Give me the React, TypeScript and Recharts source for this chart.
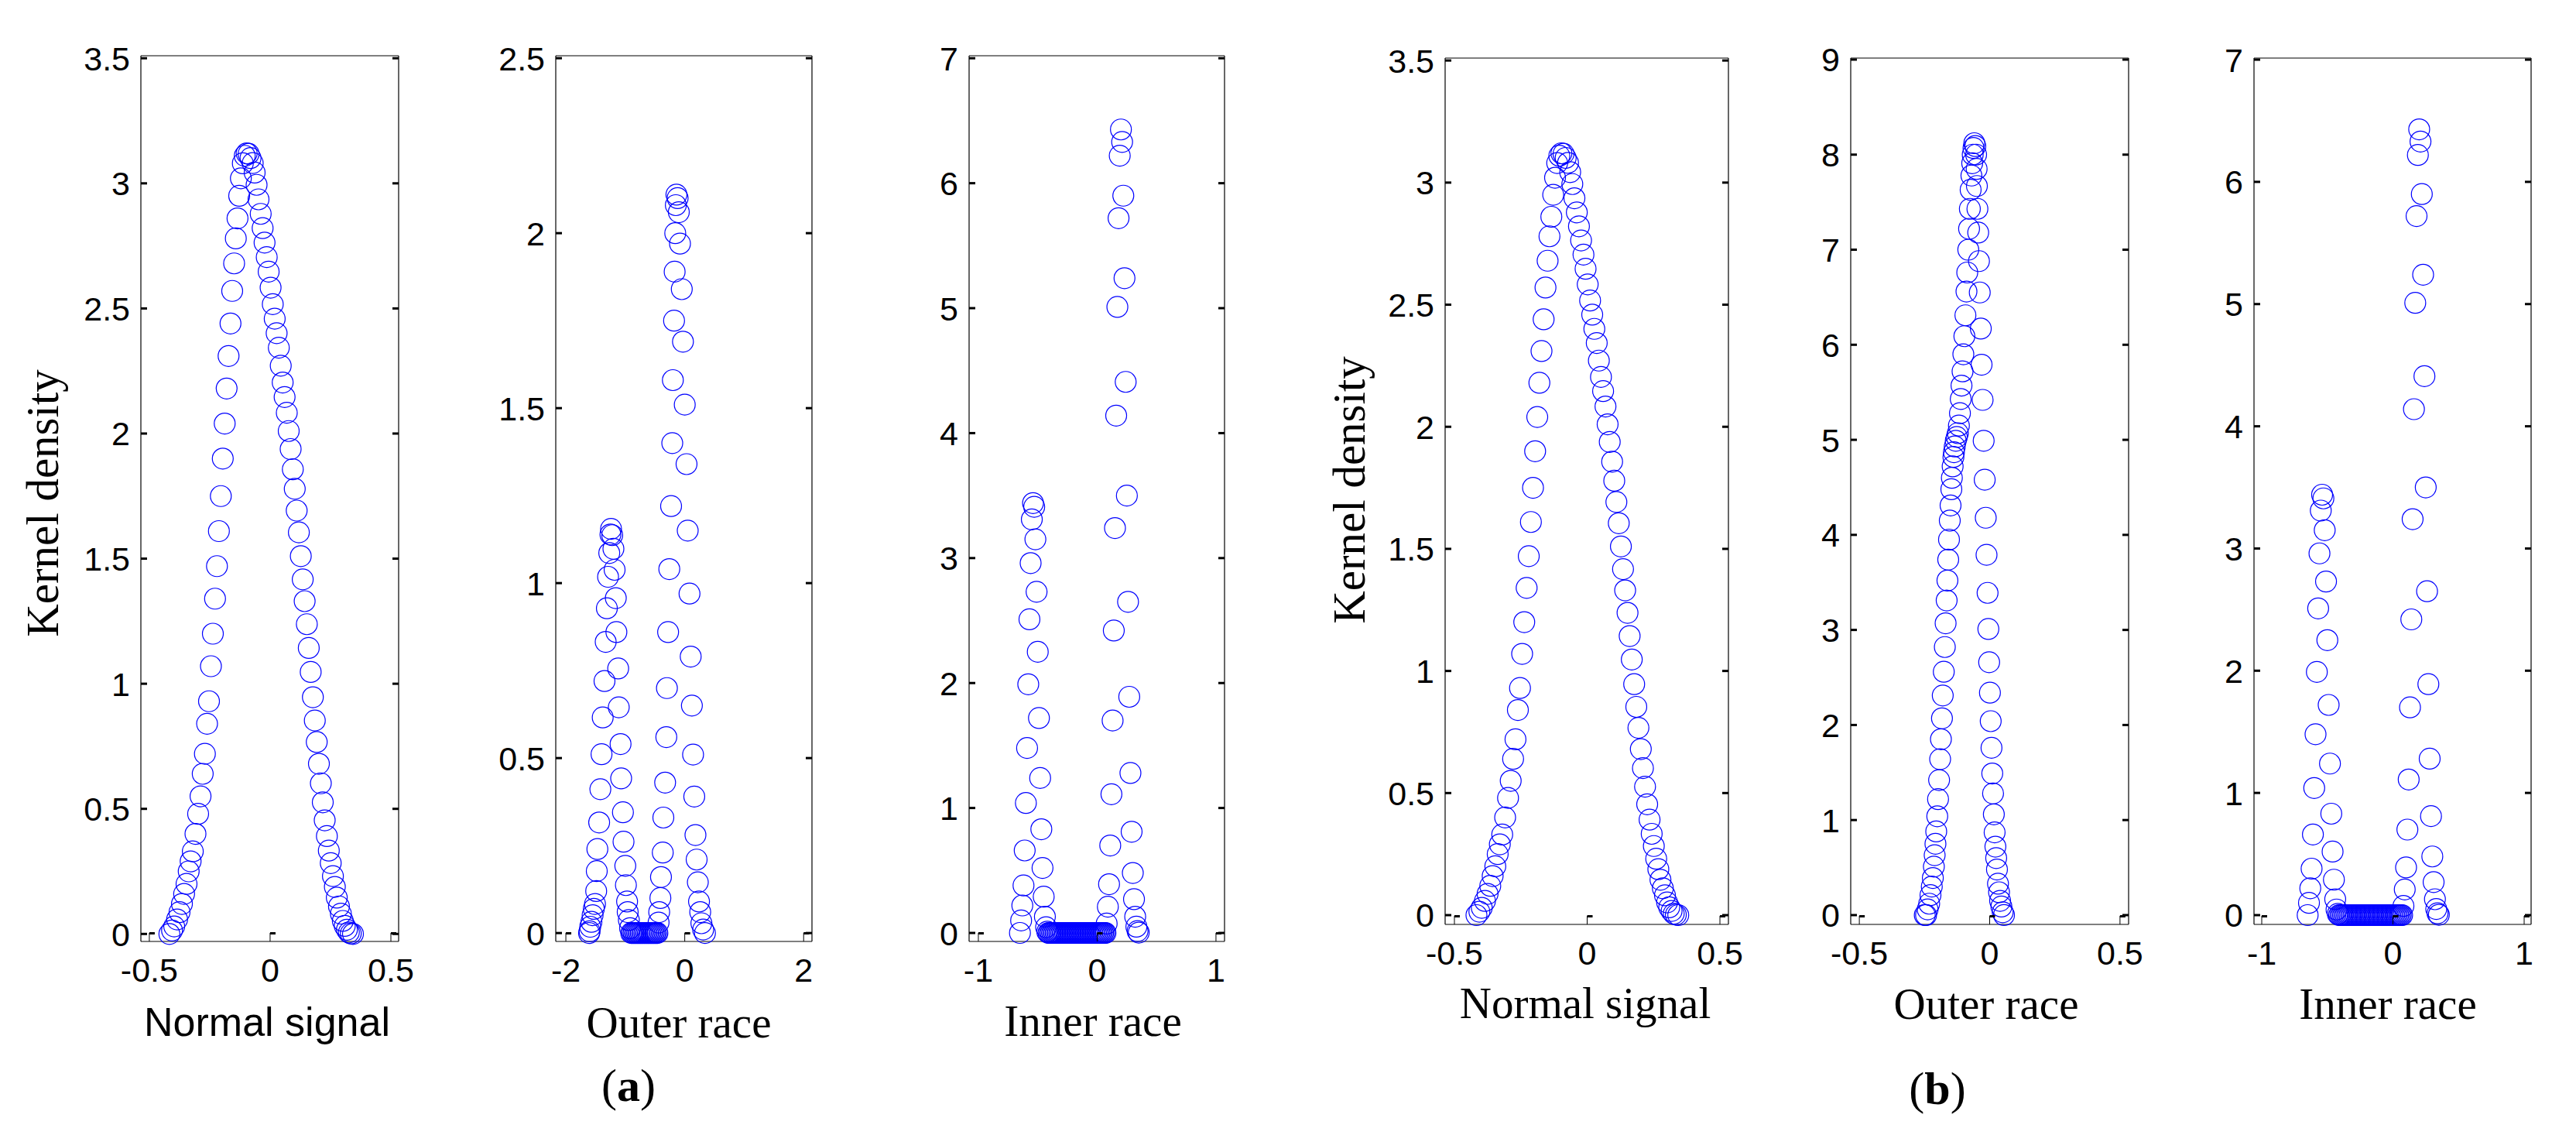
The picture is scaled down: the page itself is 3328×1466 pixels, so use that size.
import React from "react";
import { ScatterChart, Scatter, XAxis, YAxis } from "recharts";

// Kernel density estimates: x = signal value, y = density.
// The normal-signal and inner-race estimates are the same in (a) and (b).
const normalX = [
  -0.417, -0.406, -0.397, -0.385, -0.375, -0.365, -0.356, -0.346, -0.337, -0.329,
  -0.32, -0.309, -0.298, -0.288, -0.279, -0.27, -0.261, -0.253, -0.245, -0.237,
  -0.228, -0.22, -0.212, -0.204, -0.196, -0.188, -0.18, -0.172, -0.164, -0.157,
  -0.149, -0.142, -0.135, -0.128, -0.121, -0.113, -0.105, -0.097,
  -0.089, -0.081, -0.072, -0.064, -0.056, -0.048, -0.039, -0.031, -0.023, -0.014,
  -0.006, 0.002, 0.011, 0.019, 0.027, 0.036, 0.044, 0.052, 0.06, 0.069,
  0.077, 0.085, 0.094, 0.102, 0.11, 0.119, 0.127, 0.135, 0.143, 0.152,
  0.16, 0.168, 0.177, 0.185, 0.193, 0.202, 0.21, 0.218, 0.226, 0.235,
  0.243, 0.251, 0.26, 0.268, 0.276, 0.285, 0.293, 0.301, 0.309, 0.318,
  0.326, 0.334, 0.343,
];
const normalY = [
  0, 0.014, 0.03, 0.058, 0.087, 0.12, 0.16, 0.2, 0.25, 0.29,
  0.33, 0.4, 0.48, 0.55, 0.64, 0.72, 0.84, 0.93, 1.07, 1.2,
  1.34, 1.47, 1.61, 1.75, 1.9, 2.04, 2.18, 2.31, 2.44, 2.57,
  2.68, 2.78, 2.86, 2.95, 3.02, 3.08, 3.11, 3.12,
  3.118, 3.101, 3.081, 3.043, 2.994, 2.936, 2.878, 2.821, 2.763, 2.705,
  2.647, 2.583, 2.517, 2.459, 2.401, 2.343, 2.271, 2.204, 2.146, 2.083,
  2.01, 1.938, 1.857, 1.779, 1.692, 1.605, 1.51, 1.417, 1.33, 1.238,
  1.143, 1.047, 0.946, 0.853, 0.767, 0.68, 0.602, 0.526, 0.454, 0.391,
  0.333, 0.283, 0.231, 0.188, 0.145, 0.11, 0.081, 0.052, 0.032, 0.017,
  0.006, 0.002, 0,
];

const outerAX = [
  -1.61, -1.6, -1.59, -1.57, -1.55, -1.53, -1.51, -1.49, -1.48, -1.47,
  -1.44, -1.42, -1.4, -1.38, -1.35, -1.33, -1.31, -1.29, -1.27, -1.25, -1.24,
  -1.22, -1.2, -1.18, -1.16, -1.15, -1.12, -1.11, -1.08, -1.07, -1.04,
  -1.03, -1, -0.99, -0.97, -0.96, -0.94, -0.92, -0.9,
  -0.88, -0.86, -0.84, -0.82, -0.8, -0.78, -0.76, -0.74, -0.72, -0.7,
  -0.68, -0.66, -0.64, -0.62, -0.6, -0.58, -0.56, -0.54, -0.52, -0.5, -0.48,
  -0.46, -0.44, -0.43, -0.41, -0.4, -0.37, -0.36, -0.33, -0.31, -0.3,
  -0.28, -0.26, -0.23, -0.21, -0.2, -0.18, -0.17, -0.16, -0.15, -0.14,
  -0.12, -0.1, -0.08, -0.05, -0.03, 0, 0.03, 0.05, 0.08, 0.1,
  0.12, 0.14, 0.16, 0.18, 0.2, 0.22, 0.24, 0.26, 0.28, 0.31, 0.34,
];
const outerAY = [
  0, 0.005, 0.018, 0.032, 0.051, 0.069, 0.083, 0.12, 0.177, 0.24,
  0.316, 0.411, 0.511, 0.616, 0.72, 0.832, 0.928, 1.018, 1.086, 1.139, 1.155,
  1.137, 1.098, 1.038, 0.957, 0.86, 0.756, 0.645, 0.54, 0.442, 0.345,
  0.261, 0.192, 0.137, 0.09, 0.06, 0.037, 0.014, 0,
  0, 0, 0, 0, 0, 0, 0, 0, 0, 0,
  0, 0, 0, 0, 0, 0, 0, 0, 0, 0, 0,
  0, 0.03, 0.06, 0.1, 0.16, 0.23, 0.33, 0.43, 0.56, 0.7,
  0.86, 1.04, 1.22, 1.4, 1.58, 1.75, 1.89, 2, 2.08, 2.11,
  2.1, 2.06, 1.97, 1.84, 1.69, 1.51, 1.34, 1.15, 0.97, 0.79,
  0.65, 0.51, 0.39, 0.28, 0.21, 0.145, 0.09, 0.06, 0.028, 0.01, 0,
];

const outerBX = [
  -0.249, -0.244, -0.238, -0.232, -0.227, -0.222, -0.218, -0.214, -0.211, -0.208,
  -0.205, -0.201, -0.198, -0.194, -0.19, -0.187, -0.183, -0.18, -0.176, -0.172,
  -0.169, -0.165, -0.162, -0.159, -0.156, -0.153, -0.15, -0.147, -0.145, -0.142,
  -0.139, -0.137, -0.134, -0.13, -0.126, -0.122, -0.118, -0.114, -0.111, -0.108,
  -0.104, -0.101, -0.097, -0.093, -0.089, -0.086, -0.082, -0.079, -0.076, -0.073,
  -0.07, -0.067, -0.065, -0.062, -0.059,
  -0.055, -0.052, -0.05, -0.049, -0.047, -0.044, -0.041, -0.038, -0.034, -0.031,
  -0.027, -0.023, -0.019, -0.015, -0.012, -0.008, -0.005, -0.002, 0.001, 0.004,
  0.007, 0.01, 0.013, 0.016, 0.019, 0.022, 0.025, 0.028, 0.032, 0.036,
  0.04, 0.045, 0.05, 0.055,
];
const outerBY = [
  0, 0, 0.06, 0.12, 0.21, 0.3, 0.39, 0.51, 0.63, 0.75,
  0.88, 1.04, 1.22, 1.42, 1.64, 1.85, 2.07, 2.31, 2.56, 2.82,
  3.07, 3.31, 3.52, 3.74, 3.95, 4.15, 4.31, 4.48, 4.6, 4.72,
  4.82, 4.87, 4.93, 4.99, 5.03, 5.07, 5.15, 5.28, 5.43, 5.57,
  5.72, 5.9, 6.09, 6.31, 6.56, 6.76, 7, 7.22, 7.43, 7.63,
  7.78, 7.91, 8, 8.07, 8.12,
  8.09, 8, 7.85, 7.67, 7.43, 7.18, 6.88, 6.55, 6.17, 5.79,
  5.42, 4.99, 4.58, 4.18, 3.79, 3.39, 3.01, 2.66, 2.34, 2.04,
  1.76, 1.49, 1.28, 1.06, 0.87, 0.72, 0.6, 0.48, 0.33, 0.24,
  0.15, 0.09, 0.03, 0,
];

const innerX = [
  -0.65, -0.64, -0.63, -0.62, -0.61, -0.6, -0.59, -0.58, -0.57, -0.56,
  -0.55, -0.54, -0.53, -0.52, -0.51, -0.5, -0.49, -0.48, -0.47, -0.46,
  -0.45, -0.44, -0.43, -0.42, -0.41, -0.4, -0.39, -0.38, -0.37, -0.36,
  -0.35, -0.34, -0.33, -0.32, -0.31, -0.3, -0.29, -0.28, -0.27, -0.26,
  -0.25, -0.24, -0.23, -0.22, -0.21, -0.2, -0.19, -0.18, -0.17, -0.16,
  -0.15, -0.14, -0.13, -0.12, -0.11, -0.1, -0.09, -0.08, -0.07, -0.06,
  -0.05, -0.04, -0.03, -0.02, -0.01, 0, 0.01, 0.02, 0.03, 0.04,
  0.05, 0.06, 0.07, 0.08, 0.09, 0.1, 0.11, 0.12, 0.13, 0.14,
  0.15, 0.16, 0.17, 0.18, 0.19, 0.2, 0.21, 0.22, 0.23, 0.24,
  0.25, 0.26, 0.27, 0.28, 0.29, 0.3, 0.31, 0.32, 0.33, 0.34,
  0.35,
];
const innerY = [
  0, 0.1, 0.22, 0.38, 0.66, 1.04, 1.48, 1.99, 2.51, 2.96,
  3.31, 3.44, 3.41, 3.15, 2.73, 2.25, 1.72, 1.24, 0.83, 0.52,
  0.29, 0.13, 0.046, 0.01, 0, 0, 0, 0, 0, 0,
  0, 0, 0, 0, 0, 0, 0, 0, 0, 0,
  0, 0, 0, 0, 0, 0, 0, 0, 0, 0,
  0, 0, 0, 0, 0, 0, 0, 0, 0, 0,
  0, 0, 0, 0, 0, 0, 0, 0, 0, 0,
  0, 0, 0, 0.075, 0.21, 0.39, 0.7, 1.11, 1.7, 2.42,
  3.24, 4.14, 5.01, 5.72, 6.22, 6.43, 6.33, 5.9, 5.24, 4.41,
  3.5, 2.65, 1.89, 1.28, 0.81, 0.48, 0.27, 0.13, 0.05, 0.015,
  0.003,
];

const halfTicks = [-0.5, 0, 0.5];
const twoTicks = [-2, 0, 2];
const oneTicks = [-1, 0, 1];
const density35 = [0, 0.5, 1, 1.5, 2, 2.5, 3, 3.5];
const density25 = [0, 0.5, 1, 1.5, 2, 2.5];
const density7 = [0, 1, 2, 3, 4, 5, 6, 7];
const density9 = [0, 1, 2, 3, 4, 5, 6, 7, 8, 9];

const zip = (xs: number[], ys: number[]) => xs.map((x, i) => ({ x, y: ys[i] }));

const SANS = "'Liberation Sans', Arial, Helvetica, sans-serif";
const SERIF = "'Liberation Serif', 'Times New Roman', Times, serif";
const BLUE = "#0000ff";

// space around each plot box for the axes
const LEFT_W = 130;
const TOP_H = 30;
const RIGHT_W = 40;
const BOTTOM_H = 80;

function LeftTick({ x, y, payload }: any) {
  return (
    <g>
      <rect x={x} y={y - 1.5} width={8} height={3} fill="#000" />
      <text x={x - 14} y={y} dy="0.36em" textAnchor="end" fontFamily={SANS} fontSize={43} fill="#000">
        {String(payload.value)}
      </text>
    </g>
  );
}

function RightTick({ x, y }: any) {
  return <rect x={x - 8} y={y - 1.5} width={8} height={3} fill="#000" />;
}

function BottomTick({ x, y, payload }: any) {
  return (
    <g>
      <line x1={x} x2={x} y1={y} y2={y - 11} stroke="#000" strokeWidth={1} />
      <rect x={x} y={y - 12} width={7} height={3} fill="#000" />
      <text x={x} y={y + 52} textAnchor="middle" fontFamily={SANS} fontSize={43} fill="#000">
        {String(payload.value)}
      </text>
    </g>
  );
}

function TopTick({ x, y }: any) {
  return (
    <g>
      <line x1={x} x2={x} y1={y} y2={y + 12} stroke="#000" strokeWidth={1} />
      <rect x={x} y={y + 9} width={7} height={3} fill="#000" />
    </g>
  );
}

function Ring({ cx, cy }: any) {
  return <circle cx={cx} cy={cy} r={13.5} fill="none" stroke={BLUE} strokeWidth={1.2} />;
}

interface PanelProps {
  data: { x: number; y: number }[];
  left: number;
  top: number;
  width: number;
  height: number;
  xDomain: [number, number];
  yDomain: [number, number];
  xTicks: number[];
  yTicks: number[];
}

function Panel({ data, left, top, width, height, xDomain, yDomain, xTicks, yTicks }: PanelProps) {
  const axisLine = { stroke: "#000", strokeWidth: 1.2 };
  return (
    <div style={{ position: "absolute", left: left - LEFT_W, top: top - TOP_H }}>
      <ScatterChart
        width={LEFT_W + width + RIGHT_W}
        height={TOP_H + height + BOTTOM_H}
        margin={{ top: 0, right: 0, bottom: 0, left: 0 }}
      >
        <XAxis
          type="number"
          dataKey="x"
          domain={xDomain}
          ticks={xTicks}
          interval={0}
          height={BOTTOM_H}
          tickSize={0}
          tickMargin={0}
          tickLine={false}
          axisLine={axisLine}
          tick={(t: any) => <BottomTick {...t} />}
        />
        <XAxis
          xAxisId="top"
          orientation="top"
          type="number"
          domain={xDomain}
          ticks={xTicks}
          interval={0}
          allowDataOverflow
          height={TOP_H}
          tickSize={0}
          tickMargin={0}
          tickLine={false}
          axisLine={axisLine}
          tick={(t: any) => <TopTick {...t} />}
        />
        <YAxis
          type="number"
          dataKey="y"
          domain={yDomain}
          ticks={yTicks}
          interval={0}
          width={LEFT_W}
          tickSize={0}
          tickMargin={0}
          tickLine={false}
          axisLine={axisLine}
          tick={(t: any) => <LeftTick {...t} />}
        />
        <YAxis
          yAxisId="right"
          orientation="right"
          type="number"
          domain={yDomain}
          ticks={yTicks}
          interval={0}
          allowDataOverflow
          width={RIGHT_W}
          tickSize={0}
          tickMargin={0}
          tickLine={false}
          axisLine={axisLine}
          tick={(t: any) => <RightTick {...t} />}
        />
        <Scatter data={data} shape={(s: any) => <Ring {...s} />} isAnimationActive={false} />
      </ScatterChart>
    </div>
  );
}

export default function App() {
  const normal = zip(normalX, normalY);
  const outerA = zip(outerAX, outerAY);
  const outerB = zip(outerBX, outerBY);
  const inner = zip(innerX, innerY);

  return (
    <div style={{ position: "relative", width: 3328, height: 1466, background: "#fff", overflow: "hidden" }}>
      <style>{"body{margin:0}"}</style>

      {/* (a) */}
      <Panel data={normal} left={182} top={72} width={333} height={1144}
        xDomain={[-0.535, 0.532]} yDomain={[-0.03, 3.51]} xTicks={halfTicks} yTicks={density35} />
      <Panel data={outerA} left={718} top={72} width={331} height={1144}
        xDomain={[-2.17, 2.14]} yDomain={[-0.024, 2.507]} xTicks={twoTicks} yTicks={density25} />
      <Panel data={inner} left={1252} top={72} width={330} height={1144}
        xDomain={[-1.078, 1.072]} yDomain={[-0.068, 7.02]} xTicks={oneTicks} yTicks={density7} />

      {/* (b) */}
      <Panel data={normal} left={1867} top={75} width={366} height={1119}
        xDomain={[-0.535, 0.532]} yDomain={[-0.038, 3.51]} xTicks={halfTicks} yTicks={density35} />
      <Panel data={outerB} left={2391} top={75} width={359} height={1119}
        xDomain={[-0.533, 0.533]} yDomain={[-0.098, 9.016]} xTicks={halfTicks} yTicks={density9} />
      <Panel data={inner} left={2912} top={75} width={358} height={1119}
        xDomain={[-1.059, 1.053]} yDomain={[-0.076, 7.013]} xTicks={oneTicks} yTicks={density7} />

      <svg width={3328} height={1466} style={{ position: "absolute", left: 0, top: 0, pointerEvents: "none" }}>
        <g fill="#000" textAnchor="middle">
          <text x={75} y={650} transform="rotate(-90 75 650)" fontFamily={SERIF} fontSize={59}>Kernel density</text>
          <text x={345} y={1338} fontFamily={SANS} fontSize={52}>Normal signal</text>
          <text x={877} y={1340} fontFamily={SERIF} fontSize={57}>Outer race</text>
          <text x={1412} y={1338} fontFamily={SERIF} fontSize={57}>Inner race</text>
          <text x={812} y={1422} fontFamily={SERIF} fontSize={60}>
            (<tspan fontWeight="bold">a</tspan>)
          </text>

          <text x={1763} y={633} transform="rotate(-90 1763 633)" fontFamily={SERIF} fontSize={59}>Kernel density</text>
          <text x={2048} y={1315} fontFamily={SERIF} fontSize={57}>Normal signal</text>
          <text x={2566} y={1316} fontFamily={SERIF} fontSize={57}>Outer race</text>
          <text x={3085} y={1316} fontFamily={SERIF} fontSize={57}>Inner race</text>
          <text x={2503} y={1426} fontFamily={SERIF} fontSize={60}>
            (<tspan fontWeight="bold">b</tspan>)
          </text>
        </g>
      </svg>
    </div>
  );
}
